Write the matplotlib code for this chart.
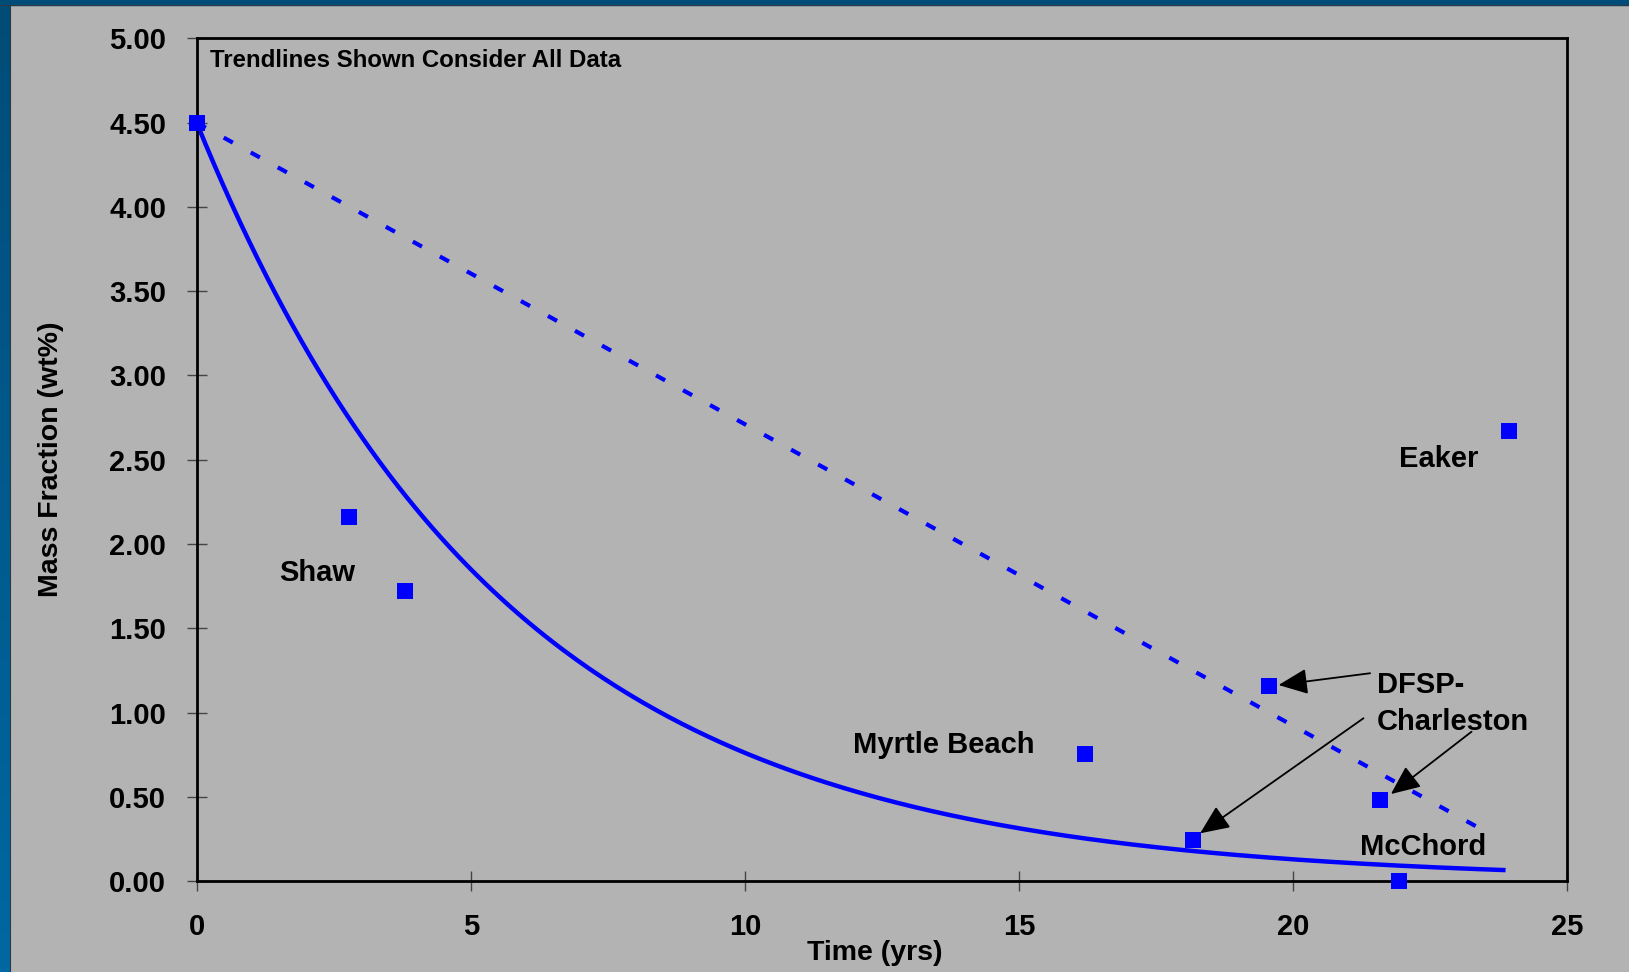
import numpy as np
import matplotlib
matplotlib.use('Agg')
import matplotlib.pyplot as plt
from matplotlib.colors import LinearSegmentedColormap
from matplotlib.patches import Rectangle
from matplotlib.lines import Line2D

# measured sites (time in years, mass fraction wt%)
time_yrs = [0.0, 2.77, 3.79, 16.20, 18.17, 19.56, 21.58, 21.93, 23.94]
mass_frac = [4.50, 2.16, 1.72, 0.755, 0.243, 1.16, 0.479, 0.0, 2.67]

# linear trendline end points
lin_x = [0.0, 23.62]
lin_y = [4.50, 0.273]

# exponential trendline y = a * exp(b * x), drawn from 0 to exp_end
exp_a = 4.50
exp_b = -0.1778
exp_end = 23.83

# site labels: text, x, y
site_labels = [
    ('Shaw', 1.51, 1.78),
    ('Myrtle Beach', 11.97, 0.758),
    ('Eaker', 21.93, 2.455),
    ('DFSP-', 21.52, 1.117),
    ('Charleston', 21.52, 0.896),
    ('McChord', 21.22, 0.154),
]

# arrows: (tip x, tip y, tail x, tail y)
arrows = [
    (19.73, 1.163, 21.40, 1.233),
    (18.30, 0.283, 21.28, 0.966),
    (21.78, 0.516, 23.25, 0.886),
]

x_ticks = [0, 5, 10, 15, 20, 25]
y_ticks = [0.0, 0.5, 1.0, 1.5, 2.0, 2.5, 3.0, 3.5, 4.0, 4.5, 5.0]

plt.rcParams['font.family'] = ['Liberation Sans', 'DejaVu Sans']
plt.rcParams['font.weight'] = 'bold'

W, H = 1629, 972
fig = plt.figure(figsize=(W / 100, H / 100), dpi=100, facecolor='#b3b3b3')

# blue frame pieces of the slide background
band = fig.add_axes([0, 0, 9.3 / W, 1])
grad = np.linspace(0, 1, 256).reshape(-1, 1)
band.imshow(grad, aspect='auto', cmap=LinearSegmentedColormap.from_list('b', ['#004c78', '#0068a2']),
            extent=[0, 1, 0, 1])
band.axis('off')
fig.add_artist(Rectangle((0, 1 - 5 / H), 1, 5 / H, transform=fig.transFigure,
                         color='#004c78', zorder=5))
fig.add_artist(Line2D([0, 1], [1 - 5.5 / H, 1 - 5.5 / H], transform=fig.transFigure,
                      color='#2c3a44', lw=0.8, zorder=6))
fig.add_artist(Line2D([9.6 / W, 9.6 / W], [0, 1 - 5 / H], transform=fig.transFigure,
                      color='#2c3a44', lw=0.8, zorder=6))

ax = fig.add_axes([196.7 / W, 1 - 881 / H, 1370.8 / W, 842.5 / H])
ax.set_facecolor('#b3b3b3')

xs = np.linspace(0, exp_end, 300)
ax.plot(xs, exp_a * np.exp(exp_b * xs), color='#0000ff', lw=3.2, zorder=3)
ax.plot(lin_x, lin_y, color='#0000ff', lw=3, dashes=(2.5, 4.9), zorder=3)
ax.plot(time_yrs, mass_frac, 's', color='#0000ff', markersize=11.2, mew=0,
        clip_on=False, zorder=6)

for txt, x, y in site_labels:
    ax.text(x, y, txt, fontsize=21, fontweight='bold', ha='left', va='baseline')

for tx, ty, sx, sy in arrows:
    ax.annotate('', xy=(tx, ty), xytext=(sx, sy),
                arrowprops=dict(arrowstyle='-|>,head_length=0.75,head_width=0.33',
                                mutation_scale=24, color='black', lw=1.3,
                                shrinkA=0, shrinkB=0))

ax.text(0.0097, 0.9665, 'Trendlines Shown Consider All Data', transform=ax.transAxes,
        fontsize=17.3, fontweight='bold', ha='left', va='baseline')

ax.set_xlim(0, 25)
ax.set_ylim(0, 5)
ax.set_xticks(x_ticks)
ax.set_yticks(y_ticks)
ax.set_xticklabels([str(t) for t in x_ticks])
ax.set_yticklabels(['%.2f' % t for t in y_ticks])
ax.tick_params(direction='inout', length=14, width=1, color='#444444', labelsize=21)
ax.tick_params(axis='y', pad=15)
ax.tick_params(axis='x', pad=16)
for s in ax.spines.values():
    s.set_linewidth(2)
    s.set_color('black')
    s.set_zorder(4)

ax.set_xlabel('Time (yrs)', fontsize=20.5, fontweight='bold')
ax.xaxis.label.set_va('center')
ax.xaxis.set_label_coords(0.495, -0.0855)
ax.set_ylabel('Mass Fraction (wt%)', fontsize=20.5, fontweight='bold')
ax.yaxis.label.set_va('center')
ax.yaxis.set_label_coords(-0.1065, 0.5)

fig.savefig('out.png', dpi=100, facecolor=fig.get_facecolor())
